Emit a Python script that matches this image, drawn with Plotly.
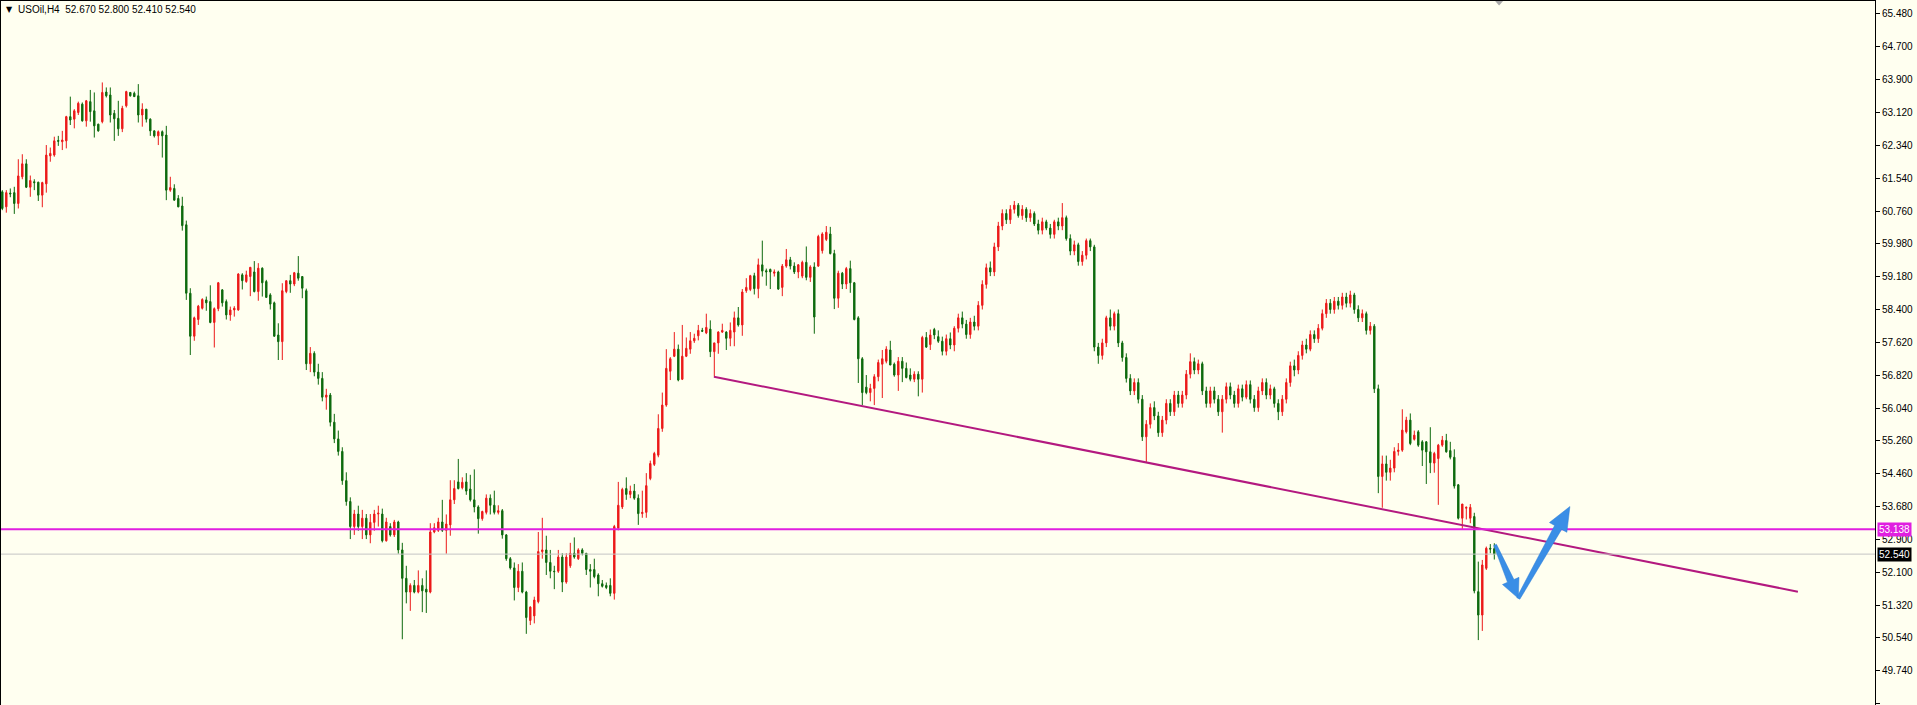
import math
import plotly.graph_objects as go

# ---------------- data (USOil H4) ----------------
opens = [
    61.22, 60.86, 61.19, 61.20, 60.94, 61.58, 61.89, 61.33, 61.46, 61.45,
    61.14, 61.41, 62.08, 62.10, 62.45, 62.42, 62.44, 63.02, 62.96, 63.12,
    63.32, 62.92, 63.38, 63.16, 62.84, 62.90, 63.61, 63.54, 63.10, 62.98,
    62.73, 63.28, 63.60, 63.58, 63.52, 63.06, 63.20, 62.96, 62.68, 62.56,
    62.66, 62.58, 61.26, 61.30, 61.06, 60.88, 60.43, 58.79, 57.76, 58.16,
    58.43, 58.63, 58.59, 58.09, 58.42, 58.87, 58.59, 58.27, 58.39, 58.39,
    59.23, 59.07, 59.19, 59.30, 58.83, 59.39, 59.07, 58.75, 58.56, 57.79,
    57.63, 58.83, 59.09, 59.01, 59.27, 59.19, 58.85, 57.10, 57.35, 56.90,
    56.75, 56.30, 56.35, 55.70, 55.30, 55.00, 54.30, 53.80, 53.20, 53.50,
    53.20, 53.40, 53.00, 53.30, 53.50, 53.50, 52.86, 53.20, 53.00, 53.31,
    52.64, 51.96, 51.63, 51.79, 51.63, 51.79, 51.70, 51.63, 53.07, 53.11,
    53.31, 53.11, 53.24, 53.84, 54.27, 54.13, 54.27, 54.10, 53.84, 53.67,
    53.39, 53.54, 53.88, 53.71, 53.54, 53.58, 53.00, 52.43, 52.21, 51.74,
    52.13, 51.63, 50.95, 51.06, 51.40, 52.60, 52.64, 52.34, 52.13, 52.13,
    52.47, 51.87, 52.26, 52.56, 52.43, 52.64, 52.56, 52.17, 52.17, 52.04,
    51.83, 51.79, 51.79, 51.60, 53.16, 53.67, 54.11, 53.97, 54.05, 53.88,
    53.51, 53.54, 54.35, 54.69, 54.91, 55.55, 56.11, 56.92, 57.28, 57.45,
    56.73, 57.28, 57.45, 57.65, 57.77, 57.90, 57.84, 57.93, 57.39, 57.60,
    57.86, 57.86, 57.71, 57.86, 58.20, 58.03, 58.85, 58.88, 59.21, 58.90,
    59.47, 59.33, 59.36, 59.27, 59.30, 58.93, 59.44, 59.59, 59.44, 59.30,
    59.20, 59.53, 59.17, 59.42, 59.44, 59.81, 60.08, 60.21, 59.74, 58.67,
    59.27, 59.01, 59.38, 59.04, 58.20, 57.22, 56.54, 56.41, 56.51, 56.79,
    57.09, 57.16, 57.43, 57.09, 56.83, 57.16, 56.99, 56.83, 56.73, 56.85,
    56.73, 57.73, 57.56, 57.92, 57.75, 57.64, 57.40, 57.70, 57.55, 57.95,
    58.20, 58.05, 57.80, 58.10, 58.00, 58.50, 59.00, 59.40, 59.30, 59.90,
    60.40, 60.70, 60.55, 60.80, 60.90, 60.65, 60.80, 60.60, 60.70, 60.45,
    60.30, 60.50, 60.35, 60.20, 60.50, 60.40, 60.60, 60.10, 59.80, 59.95,
    59.55, 59.70, 60.05, 59.90, 57.50, 57.30, 57.60, 58.20, 58.00, 58.30,
    57.60, 57.25, 56.75, 56.45, 56.65, 56.25, 55.35, 55.65, 56.05, 55.85,
    55.45, 55.75, 56.15, 55.95, 56.35, 56.15, 56.35, 56.85, 57.15, 56.95,
    57.10, 56.45, 56.15, 56.45, 56.25, 55.95, 56.25, 56.55, 56.35, 56.15,
    56.50, 56.30, 56.60, 56.25, 56.05, 56.45, 56.65, 56.35, 56.50, 56.15,
    55.95, 56.25, 56.65, 57.05, 56.95, 57.30, 57.55, 57.45, 57.80, 57.70,
    57.95, 58.30, 58.55, 58.40, 58.60, 58.50, 58.70, 58.55, 58.75, 58.40,
    58.20, 58.30, 57.90, 58.00, 56.50, 54.40, 54.70, 54.50, 54.60, 55.00,
    55.03, 55.47, 55.75, 55.29, 55.47, 55.23, 55.23, 54.99, 54.72, 54.83,
    55.15, 55.26, 55.02, 54.86, 54.20, 53.40, 53.64, 53.40, 53.44, 51.64,
    51.08, 52.20, 52.68, 52.67,
]
highs = [
    61.26, 61.26, 61.30, 61.34, 62.00, 62.12, 62.00, 61.61, 61.52, 61.46,
    61.46, 62.34, 62.28, 62.54, 62.56, 62.68, 63.04, 63.50, 63.20, 63.38,
    63.36, 63.42, 63.66, 63.60, 62.85, 63.84, 63.72, 63.72, 63.18, 63.40,
    63.28, 63.64, 63.61, 63.62, 63.80, 63.34, 63.20, 62.98, 62.69, 62.69,
    62.69, 62.80, 61.58, 61.40, 61.14, 61.10, 60.53, 58.91, 58.23, 58.51,
    58.67, 58.71, 58.98, 58.45, 59.06, 58.89, 58.64, 58.47, 58.48, 59.27,
    59.27, 59.33, 59.42, 59.56, 59.51, 59.41, 59.11, 58.79, 58.59, 58.07,
    59.03, 59.09, 59.23, 59.30, 59.68, 59.19, 58.90, 57.50, 57.40, 57.10,
    56.90, 56.50, 56.40, 55.90, 55.50, 55.10, 54.50, 53.90, 53.60, 53.70,
    53.60, 53.50, 53.50, 53.60, 53.70, 53.63, 53.41, 53.28, 53.36, 53.34,
    52.81, 52.26, 51.84, 51.92, 52.15, 51.96, 52.15, 53.28, 53.28, 53.41,
    53.84, 53.49, 54.31, 54.31, 54.82, 54.38, 54.48, 54.44, 54.57, 53.71,
    53.58, 53.97, 53.97, 54.06, 53.71, 53.62, 53.02, 52.47, 52.34, 52.30,
    52.34, 51.66, 51.29, 51.52, 53.07, 53.41, 52.98, 52.64, 52.26, 52.64,
    52.56, 52.56, 52.81, 52.94, 52.68, 52.68, 52.56, 52.30, 52.43, 52.08,
    51.92, 51.86, 51.96, 53.24, 54.27, 54.13, 54.38, 54.18, 54.22, 53.97,
    54.06, 54.48, 54.78, 54.99, 55.89, 56.41, 57.45, 57.26, 57.86, 57.56,
    58.03, 57.73, 57.86, 57.82, 58.03, 57.96, 58.30, 58.14, 57.60, 57.88,
    58.06, 57.88, 58.09, 58.35, 58.46, 58.89, 59.15, 59.23, 59.28, 59.62,
    60.05, 59.38, 59.38, 59.36, 59.33, 59.49, 59.85, 59.66, 59.53, 59.49,
    59.57, 59.91, 59.46, 59.53, 60.19, 60.25, 60.40, 60.38, 59.83, 59.33,
    59.30, 59.42, 59.57, 59.06, 58.24, 57.26, 56.83, 56.62, 56.85, 57.20,
    57.43, 57.52, 57.65, 57.13, 57.26, 57.26, 57.13, 56.99, 56.92, 56.92,
    57.77, 57.86, 57.92, 57.96, 57.90, 57.75, 57.80, 57.85, 58.00, 58.30,
    58.35, 58.15, 58.20, 58.25, 58.60, 59.10, 59.50, 59.55, 60.00, 60.50,
    60.80, 60.80, 60.90, 61.00, 60.95, 60.90, 60.85, 60.80, 60.75, 60.55,
    60.60, 60.55, 60.45, 60.55, 60.60, 60.95, 60.65, 60.20, 60.05, 60.00,
    59.80, 60.10, 60.10, 59.95, 57.60, 57.70, 58.25, 58.40, 58.35, 58.40,
    57.65, 57.35, 56.85, 56.75, 56.75, 56.35, 55.75, 56.15, 56.20, 55.95,
    55.85, 56.25, 56.25, 56.45, 56.45, 56.45, 56.95, 57.35, 57.25, 57.20,
    57.15, 56.55, 56.55, 56.55, 56.35, 56.35, 56.65, 56.65, 56.45, 56.60,
    56.60, 56.70, 56.70, 56.35, 56.55, 56.75, 56.75, 56.60, 56.55, 56.25,
    56.35, 56.75, 57.15, 57.20, 57.40, 57.65, 57.70, 57.90, 57.90, 58.05,
    58.40, 58.65, 58.65, 58.70, 58.70, 58.80, 58.80, 58.85, 58.80, 58.50,
    58.40, 58.35, 58.10, 58.05, 56.60, 54.90, 54.90, 54.80, 55.10, 55.20,
    56.01, 55.83, 55.91, 55.50, 55.51, 55.27, 55.25, 55.58, 54.99, 55.18,
    55.37, 55.42, 55.23, 55.05, 54.22, 53.74, 53.68, 53.74, 53.53, 52.36,
    52.40, 52.72, 52.78, 52.80,
]
lows = [
    60.78, 60.72, 61.09, 60.69, 60.82, 61.52, 61.31, 61.10, 61.26, 61.00,
    60.85, 61.20, 61.94, 62.06, 62.32, 62.22, 62.26, 62.82, 62.74, 63.06,
    62.90, 62.78, 62.90, 62.52, 62.66, 62.86, 63.48, 62.88, 62.44, 62.56,
    62.65, 63.24, 63.50, 63.50, 62.88, 62.78, 62.88, 62.56, 62.52, 62.34,
    62.04, 61.02, 61.22, 61.01, 60.85, 60.29, 58.63, 57.31, 57.65, 58.03,
    58.40, 58.37, 58.07, 57.49, 58.36, 58.47, 58.16, 58.13, 58.23, 58.37,
    58.88, 59.04, 58.72, 58.81, 58.61, 58.71, 58.69, 58.40, 57.75, 57.19,
    57.19, 58.79, 58.80, 58.96, 59.09, 58.67, 56.95, 56.90, 56.80, 56.60,
    56.20, 56.00, 55.60, 55.20, 54.90, 54.20, 53.70, 52.90, 53.00, 53.10,
    52.90, 52.90, 52.80, 53.10, 53.20, 52.82, 52.84, 52.96, 52.95, 52.55,
    50.50, 51.36, 51.18, 51.60, 51.60, 51.15, 51.13, 51.60, 53.04, 53.07,
    53.07, 52.55, 52.98, 53.74, 54.09, 54.09, 53.96, 53.80, 53.54, 53.03,
    53.34, 53.49, 53.49, 53.49, 53.49, 52.91, 52.38, 52.17, 51.43, 51.63,
    51.60, 50.63, 50.84, 50.88, 51.36, 52.43, 52.04, 51.96, 51.70, 52.09,
    51.63, 51.83, 52.21, 52.43, 52.40, 52.51, 52.04, 51.74, 51.96, 51.53,
    51.74, 51.70, 51.53, 51.45, 53.11, 53.62, 53.84, 53.88, 53.84, 53.24,
    53.41, 53.41, 54.31, 54.65, 54.86, 55.47, 56.07, 56.71, 57.26, 56.68,
    56.71, 57.26, 57.34, 57.60, 57.66, 57.86, 57.81, 57.26, 56.79, 57.34,
    57.84, 57.43, 57.52, 57.52, 57.99, 57.77, 58.80, 58.84, 58.76, 58.67,
    59.19, 58.97, 58.89, 59.19, 58.87, 58.72, 59.40, 59.36, 59.25, 59.15,
    59.15, 59.10, 59.06, 57.82, 59.42, 59.74, 60.04, 59.72, 58.41, 58.44,
    58.89, 58.89, 58.80, 58.14, 56.64, 56.11, 56.37, 56.20, 56.11, 56.68,
    56.28, 57.11, 57.07, 56.79, 56.45, 56.66, 56.75, 56.68, 56.66, 56.32,
    56.41, 57.48, 57.43, 57.69, 57.60, 57.30, 57.30, 57.45, 57.40, 57.85,
    57.95, 57.70, 57.70, 57.90, 57.90, 58.40, 58.90, 59.20, 59.20, 59.80,
    60.30, 60.45, 60.45, 60.70, 60.60, 60.55, 60.50, 60.50, 60.40, 60.20,
    60.20, 60.30, 60.10, 60.10, 60.30, 60.30, 60.05, 59.70, 59.70, 59.45,
    59.45, 59.60, 59.80, 57.40, 57.10, 57.20, 57.50, 57.90, 57.90, 57.50,
    57.15, 56.65, 56.35, 56.35, 56.15, 55.25, 54.75, 55.55, 55.75, 55.35,
    55.35, 55.65, 55.85, 55.85, 56.05, 56.05, 56.25, 56.75, 56.85, 56.85,
    56.35, 56.05, 56.05, 56.15, 55.85, 55.45, 56.15, 56.25, 56.05, 56.05,
    56.20, 56.25, 56.15, 55.95, 55.95, 56.35, 56.25, 56.25, 56.05, 55.75,
    55.85, 56.15, 56.55, 56.80, 56.85, 57.20, 57.35, 57.40, 57.60, 57.60,
    57.90, 58.20, 58.30, 58.30, 58.40, 58.40, 58.45, 58.45, 58.30, 58.10,
    58.10, 57.80, 57.80, 56.40, 54.00, 53.65, 54.30, 54.30, 54.50, 54.90,
    54.99, 55.43, 55.15, 55.26, 55.11, 54.65, 54.22, 54.48, 54.49, 53.72,
    55.11, 54.97, 54.81, 54.11, 53.37, 53.13, 53.37, 53.28, 51.60, 50.48,
    50.70, 52.16, 52.56, 52.41,
]
closes = [
    60.82, 61.20, 61.17, 60.94, 61.60, 61.89, 61.33, 61.49, 61.44, 61.14,
    61.44, 62.10, 62.14, 62.44, 62.43, 62.46, 63.02, 62.94, 63.16, 63.34,
    62.92, 63.40, 63.14, 62.80, 62.68, 63.60, 63.52, 63.06, 62.97, 62.73,
    63.22, 63.62, 63.52, 63.50, 63.06, 63.20, 62.96, 62.68, 62.56, 62.66,
    62.56, 61.26, 61.32, 61.02, 60.86, 60.41, 58.79, 57.76, 58.20, 58.48,
    58.64, 58.56, 58.09, 58.42, 59.04, 58.56, 58.27, 58.39, 58.43, 59.25,
    59.09, 59.23, 59.41, 58.83, 59.39, 59.04, 58.69, 58.53, 57.76, 57.63,
    58.85, 59.09, 59.01, 59.28, 59.15, 58.91, 57.10, 57.35, 56.90, 56.75,
    56.30, 56.35, 55.70, 55.30, 55.00, 54.30, 53.80, 53.20, 53.50, 53.20,
    53.40, 53.00, 53.30, 53.50, 53.52, 52.86, 53.31, 53.00, 53.31, 52.64,
    51.96, 51.63, 51.79, 51.63, 51.79, 51.66, 51.63, 53.07, 53.17, 53.31,
    53.11, 53.26, 53.84, 54.11, 54.11, 54.26, 54.05, 53.84, 53.67, 53.39,
    53.56, 53.88, 53.71, 53.54, 53.58, 53.00, 52.43, 52.21, 51.74, 52.13,
    51.63, 51.02, 51.27, 51.44, 52.60, 52.64, 52.34, 52.13, 52.12, 52.47,
    51.87, 52.47, 52.56, 52.47, 52.64, 52.56, 52.17, 52.13, 52.00, 51.83,
    51.77, 51.74, 51.60, 53.20, 53.71, 54.09, 53.97, 54.05, 53.88, 53.51,
    53.54, 54.18, 54.71, 54.95, 55.55, 56.11, 56.99, 57.22, 57.45, 56.71,
    57.28, 57.47, 57.65, 57.71, 57.90, 57.88, 57.97, 57.39, 57.60, 57.86,
    57.90, 57.71, 57.90, 58.20, 58.03, 58.82, 58.93, 59.21, 58.90, 59.47,
    59.32, 59.30, 59.30, 59.30, 58.89, 59.44, 59.59, 59.44, 59.30, 59.47,
    59.53, 59.17, 59.42, 58.22, 60.15, 60.21, 60.25, 59.74, 58.67, 59.27,
    59.01, 59.38, 59.04, 58.16, 57.22, 56.41, 56.41, 56.51, 56.79, 57.13,
    57.22, 57.45, 57.07, 56.83, 57.16, 56.99, 56.77, 56.73, 56.85, 56.73,
    57.73, 57.50, 57.79, 57.79, 57.64, 57.40, 57.70, 57.55, 57.95, 58.20,
    58.05, 57.80, 58.10, 58.00, 58.50, 59.00, 59.40, 59.30, 59.90, 60.40,
    60.70, 60.55, 60.80, 60.90, 60.65, 60.80, 60.60, 60.70, 60.45, 60.30,
    60.50, 60.35, 60.20, 60.50, 60.40, 60.60, 60.10, 59.80, 59.95, 59.55,
    59.70, 60.05, 59.90, 57.50, 57.30, 57.60, 58.20, 58.00, 58.30, 57.60,
    57.25, 56.75, 56.45, 56.65, 56.25, 55.35, 55.65, 56.05, 55.85, 55.45,
    55.75, 56.15, 55.95, 56.35, 56.15, 56.35, 56.85, 57.15, 56.95, 57.10,
    56.45, 56.15, 56.45, 56.25, 55.95, 56.25, 56.55, 56.35, 56.15, 56.50,
    56.30, 56.60, 56.25, 56.05, 56.45, 56.65, 56.35, 56.50, 56.15, 55.95,
    56.25, 56.65, 57.05, 56.95, 57.30, 57.55, 57.45, 57.80, 57.70, 57.95,
    58.30, 58.55, 58.40, 58.60, 58.50, 58.70, 58.55, 58.75, 58.40, 58.20,
    58.30, 57.90, 58.00, 56.50, 54.40, 54.70, 54.50, 54.60, 55.00, 55.03,
    55.51, 55.75, 55.19, 55.39, 55.15, 55.03, 54.99, 54.73, 54.95, 55.15,
    55.27, 54.99, 54.86, 54.17, 53.40, 53.74, 53.66, 53.66, 51.66, 51.08,
    52.28, 52.68, 52.66, 52.54,
]

price_ticks = [65.48, 64.70, 63.90, 63.12, 62.34, 61.54, 60.76, 59.98, 59.18, 58.40,
               57.62, 56.82, 56.04, 55.26, 54.46, 53.68, 52.90, 52.10, 51.32, 50.54,
               49.74, 48.96]
tick_labels = ["%.3f" % v for v in price_ticks]

level_price = 53.138          # horizontal magenta level
last_price = 52.54            # current bid line
trend_x = [177.9, 448.9]      # trend line (bar index)
trend_y = [56.79, 51.64]
arrow1 = dict(x0=373.2, y0=52.76, x1=379.0, y1=51.48)   # tail -> tip
arrow2 = dict(x0=379.0, y0=51.48, x1=391.9, y1=53.68)
shift_marker_x = [373.2, 375.2, 374.2]   # small grey chart-shift triangle (bar index)
title_text = "USOil,H4\u00a0\u00a052.670 52.800 52.410 52.540"

# ---------------- styling ----------------
BG = "#FFFFF0"
UP = "#EC1A1A"
DOWN = "#0E6A0E"
MAGENTA = "#E01FE0"
TREND = "#B3197F"
ARROW = "#3A8EE6"
FONT = "Liberation Sans, Arial, sans-serif"

W, H = 1917, 705
M = dict(l=1, r=42, t=1, b=0)
X_RANGE = [-0.325, 468.175]
Y_RANGE = [48.925, 65.791]
px_per_bar = (W - M["l"] - M["r"]) / (X_RANGE[1] - X_RANGE[0])
px_per_price = (H - M["t"] - M["b"]) / (Y_RANGE[1] - Y_RANGE[0])


def arrow_path(a, tail_w, shaft_w, head_w, head_len):
    """Tapered filled arrow, built in pixel space and mapped back to data."""
    X0, Y0 = a["x0"] * px_per_bar, -a["y0"] * px_per_price
    X1, Y1 = a["x1"] * px_per_bar, -a["y1"] * px_per_price
    L = math.hypot(X1 - X0, Y1 - Y0)
    dx, dy = (X1 - X0) / L, (Y1 - Y0) / L
    nx, ny = -dy, dx
    bx, by = X1 - dx * head_len, Y1 - dy * head_len
    pts = [
        (X0 + nx * tail_w / 2, Y0 + ny * tail_w / 2),
        (bx + nx * shaft_w / 2, by + ny * shaft_w / 2),
        (bx + nx * head_w / 2, by + ny * head_w / 2),
        (X1, Y1),
        (bx - nx * head_w / 2, by - ny * head_w / 2),
        (bx - nx * shaft_w / 2, by - ny * shaft_w / 2),
        (X0 - nx * tail_w / 2, Y0 - ny * tail_w / 2),
    ]
    d = " ".join(("M" if k == 0 else "L") + " %f,%f" % (px / px_per_bar, -py / px_per_price)
                 for k, (px, py) in enumerate(pts))
    return d + " Z"


idx = list(range(len(closes)))

fig = go.Figure()
fig.add_trace(go.Candlestick(
    x=idx, open=opens, high=highs, low=lows, close=closes,
    increasing=dict(line=dict(color=UP, width=1), fillcolor=UP),
    decreasing=dict(line=dict(color=DOWN, width=1), fillcolor=DOWN),
    whiskerwidth=0, hoverinfo="skip", showlegend=False,
))
fig.add_trace(go.Scatter(
    x=trend_x, y=trend_y, mode="lines",
    line=dict(color=TREND, width=2), hoverinfo="skip", showlegend=False,
))

fig.add_shape(type="line", xref="paper", x0=0, x1=1, yref="y",
              y0=last_price, y1=last_price, line=dict(color="#C4C4C4", width=1))
fig.add_shape(type="line", xref="paper", x0=0, x1=1, yref="y",
              y0=level_price, y1=level_price, line=dict(color=MAGENTA, width=2))

fig.add_shape(type="path", xref="x", yref="y",
              path=arrow_path(arrow1, 3, 7, 18, 19),
              fillcolor=ARROW, line=dict(color="#2F7FD6", width=0.5))
fig.add_shape(type="path", xref="x", yref="y",
              path=arrow_path(arrow2, 3.5, 8, 20, 24),
              fillcolor=ARROW, line=dict(color="#2F7FD6", width=0.5))

# small grey triangle at the top edge (chart shift marker)
sx0, sx1, sx2 = shift_marker_x
fig.add_shape(type="path", xref="x", yref="paper",
              path="M %f,1 L %f,1 L %f,0.9935 Z" % (sx0, sx1, sx2),
              fillcolor="#A8A8A8", line=dict(width=0))

# right-side price tags
fig.add_annotation(x=1, xref="paper", xanchor="left", xshift=2,
                   y=level_price, yref="y", yanchor="middle",
                   text="%.3f" % level_price, showarrow=False,
                   bgcolor=MAGENTA, borderpad=1,
                   font=dict(family=FONT, size=10, color="white"))
fig.add_annotation(x=1, xref="paper", xanchor="left", xshift=2,
                   y=last_price, yref="y", yanchor="middle",
                   text="%.3f" % last_price, showarrow=False,
                   bgcolor="black", borderpad=1,
                   font=dict(family=FONT, size=10, color="white"))

# title
fig.add_annotation(x=0, xref="paper", xanchor="left", xshift=3,
                   y=1, yref="paper", yanchor="top", yshift=-2,
                   text="\u25bc", showarrow=False,
                   font=dict(family="DejaVu Sans", size=8, color="black"))
fig.add_annotation(x=0, xref="paper", xanchor="left", xshift=15,
                   y=1, yref="paper", yanchor="top", yshift=-1,
                   text=title_text, showarrow=False,
                   font=dict(family=FONT, size=10, color="black"))

fig.update_layout(
    width=W, height=H,
    margin=dict(l=M["l"], r=M["r"], t=M["t"], b=M["b"], pad=0),
    paper_bgcolor=BG, plot_bgcolor=BG,
    boxgap=0.5,
    showlegend=False,
    xaxis=dict(range=X_RANGE, rangeslider=dict(visible=False),
               showgrid=False, zeroline=False, showticklabels=False,
               ticks="", showline=True, linecolor="black", linewidth=1,
               mirror=True, fixedrange=True),
    yaxis=dict(range=Y_RANGE, side="right", showgrid=False,
               zeroline=False, tickmode="array", tickvals=price_ticks,
               ticktext=tick_labels, ticks="outside", ticklen=4,
               tickcolor="black", tickwidth=1,
               tickfont=dict(family=FONT, size=10, color="black"),
               showline=True, linecolor="black", linewidth=1, mirror=True,
               automargin=False, fixedrange=True),
)

fig.write_html("out.html", config={"displayModeBar": False, "staticPlot": True},
               post_script="document.body.style.margin='0';document.body.style.overflow='hidden';")
